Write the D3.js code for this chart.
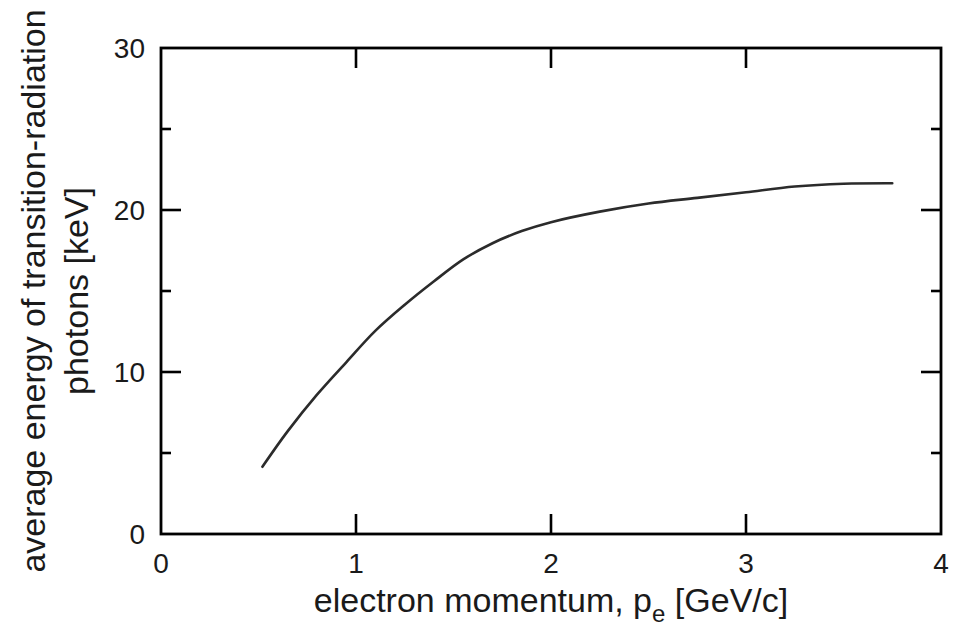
<!DOCTYPE html>
<html>
<head>
  <meta charset="UTF-8">
  <title>Average energy of transition-radiation photons</title>
  <script src="https://d3js.org/d3.v7.min.js"></script>
  <style>
    body { margin: 0; background: #fff; }
    text { font-family: "Liberation Sans", Arial, sans-serif; fill: #1a1a1a; }
  </style>
</head>
<body>
  <div id="chart"></div>
  <script>
    // values
    const momentum = [0.52, 0.65, 0.80, 0.95, 1.10, 1.25, 1.40, 1.55, 1.70, 1.85, 2.00, 2.25, 2.50, 2.75, 3.00, 3.25, 3.50, 3.75];
    const energy = [4.15, 6.35, 8.6, 10.6, 12.55, 14.15, 15.6, 16.95, 17.95, 18.7, 19.25, 19.9, 20.4, 20.75, 21.1, 21.45, 21.62, 21.65];
    const xTicks = [0, 1, 2, 3, 4];
    const yTicks = [0, 10, 20, 30];
    const yMinorTicks = [5, 15, 25];

    const W = 959, H = 628;
    const plotLeft = 161, plotRight = 941, plotTop = 48, plotBottom = 534;

    const svg = d3.select("#chart")
      .append("svg")
      .attr("width", W)
      .attr("height", H);

    const x = d3.scaleLinear().domain([0, 4]).range([plotLeft, plotRight]);
    const y = d3.scaleLinear().domain([0, 30]).range([plotBottom, plotTop]);

    const data = momentum.map((m, i) => ({ p: m, e: energy[i] }));

    const line = d3.line()
      .x(d => x(d.p))
      .y(d => y(d.e))
      .curve(d3.curveCatmullRom);

    svg.append("path")
      .datum(data)
      .attr("fill", "none")
      .attr("stroke", "#2b2b2b")
      .attr("stroke-width", 2.6)
      .attr("stroke-linecap", "round")
      .attr("d", line);

    // ticks, pointing inward on all four sides
    const tickStyle = g => g.attr("stroke", "#000").attr("stroke-width", 2.6);
    const inner = xTicks.filter(t => t > 0 && t < 4);

    svg.append("g").call(tickStyle)
      .selectAll("line").data(inner).enter().append("line")
      .attr("x1", d => x(d)).attr("x2", d => x(d))
      .attr("y1", plotBottom).attr("y2", plotBottom - 20);
    svg.append("g").call(tickStyle)
      .selectAll("line").data(inner).enter().append("line")
      .attr("x1", d => x(d)).attr("x2", d => x(d))
      .attr("y1", plotTop).attr("y2", plotTop + 20);

    const yAll = yTicks.map(v => ({ v, len: 20 })).concat(yMinorTicks.map(v => ({ v, len: 10 })))
      .filter(d => d.v > 0 && d.v < 30);
    svg.append("g").call(tickStyle)
      .selectAll("line").data(yAll).enter().append("line")
      .attr("x1", plotLeft).attr("x2", d => plotLeft + d.len)
      .attr("y1", d => y(d.v)).attr("y2", d => y(d.v));
    svg.append("g").call(tickStyle)
      .selectAll("line").data(yAll).enter().append("line")
      .attr("x1", plotRight).attr("x2", d => plotRight - d.len)
      .attr("y1", d => y(d.v)).attr("y2", d => y(d.v));

    // frame
    svg.append("rect")
      .attr("x", plotLeft).attr("y", plotTop)
      .attr("width", plotRight - plotLeft).attr("height", plotBottom - plotTop)
      .attr("fill", "none")
      .attr("stroke", "#000")
      .attr("stroke-width", 2.8);

    // tick labels
    svg.append("g").selectAll("text").data(xTicks).enter().append("text")
      .attr("x", d => x(d))
      .attr("y", plotBottom + 39)
      .attr("text-anchor", "middle")
      .style("font-size", "28px")
      .text(d => d);

    svg.append("g").selectAll("text").data(yTicks).enter().append("text")
      .attr("x", plotLeft - 16)
      .attr("y", d => y(d))
      .attr("dy", "0.36em")
      .attr("text-anchor", "end")
      .style("font-size", "28px")
      .text(d => d);

    // x title with subscript
    const xt = svg.append("text")
      .attr("x", (plotLeft + plotRight) / 2)
      .attr("y", 612)
      .attr("text-anchor", "middle")
      .style("font-size", "34px");
    xt.append("tspan").text("electron momentum, p");
    xt.append("tspan").attr("dy", 10).style("font-size", "24px").text("e");
    xt.append("tspan").attr("dy", -10).text(" [GeV/c]");

    // y title, two lines
    const yMid = (plotTop + plotBottom) / 2;
    svg.append("text")
      .attr("transform", "translate(45," + yMid + ") rotate(-90)")
      .attr("text-anchor", "middle")
      .style("font-size", "34px")
      .text("average energy of transition-radiation");
    svg.append("text")
      .attr("transform", "translate(88," + yMid + ") rotate(-90)")
      .attr("text-anchor", "middle")
      .style("font-size", "34px")
      .text("photons [keV]");
  </script>
</body>
</html>
